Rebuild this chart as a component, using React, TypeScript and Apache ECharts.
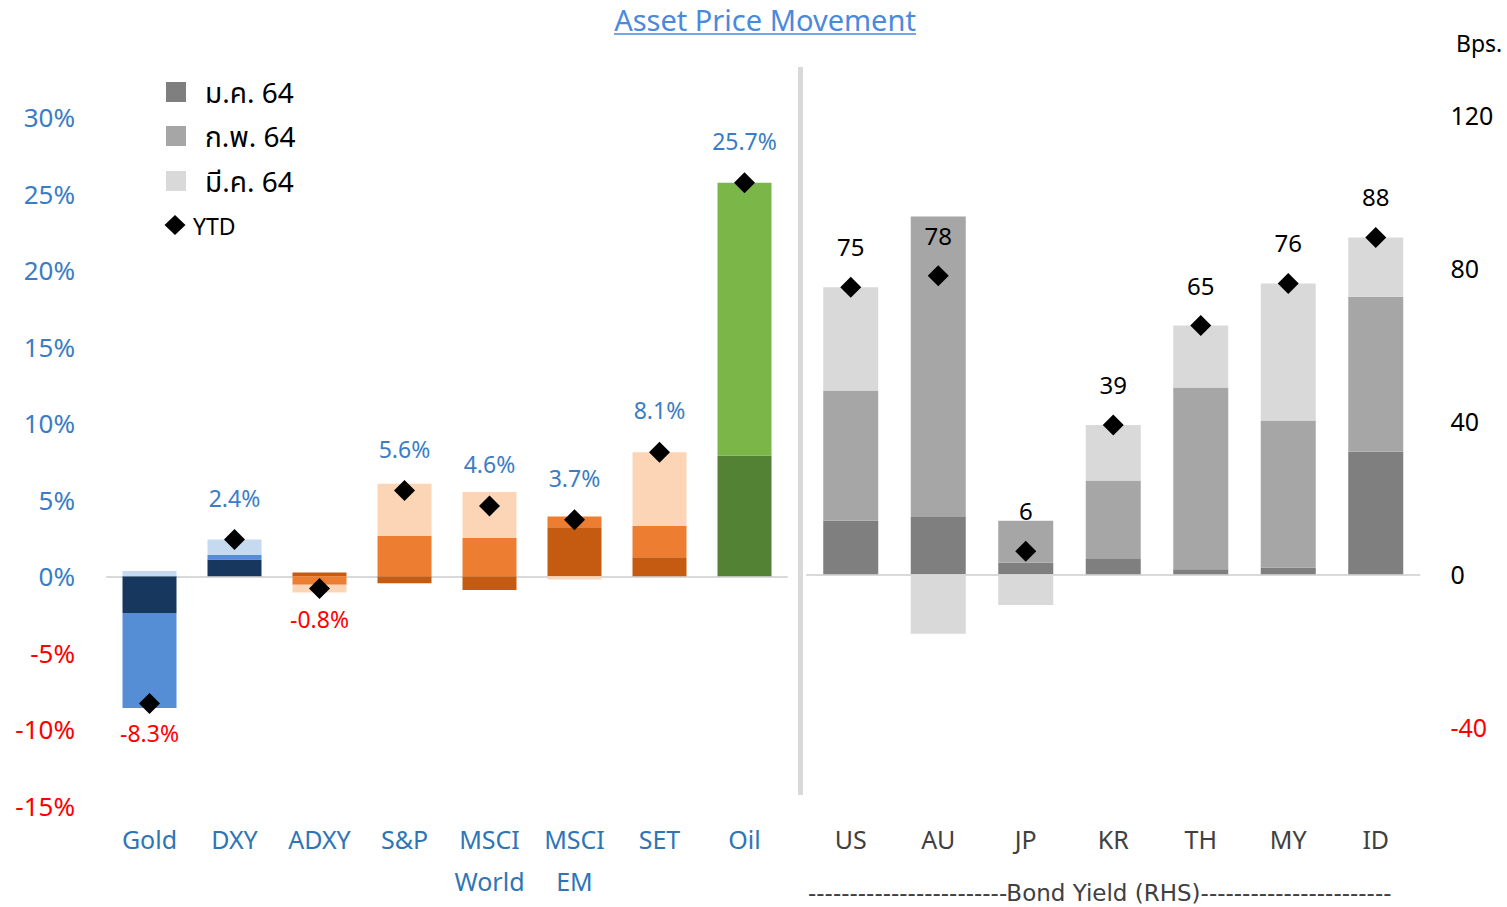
import React, { useEffect, useRef } from "react";
import * as echarts from "echarts";

const leftCats = ["Gold", "DXY", "ADXY", "S&P", "MSCI\nWorld", "MSCI\nEM", "SET", "Oil"];
const leftJan = [-2.4, 1.1, 0.25, -0.45, -0.9, 3.2, 1.25, 7.9];
const leftFeb = [-6.2, 0.3, -0.55, 2.65, 2.5, 0.7, 2.05, 17.8];
const leftMar = [0.35, 1.0, -0.5, 3.4, 3.0, -0.2, 4.8, 0];
const leftYtd = [-8.3, 2.4, -0.8, 5.6, 4.6, 3.7, 8.1, 25.7];

const rightCats = ["US", "AU", "JP", "KR", "TH", "MY", "ID"];
const rightJan = [14, 15, 3, 4, 1.3, 1.7, 32];
const rightFeb = [34, 78.5, 11, 20.5, 47.5, 38.5, 40.5];
const rightMar = [27, -15.5, -8, 14.5, 16.2, 35.8, 15.5];
const rightYtd = [75, 78, 6, 39, 65, 76, 88];

const legendNames = ["ม.ค. 64", "ก.พ. 64", "มี.ค. 64", "YTD"];
const bondTitle = "------------------------Bond Yield (RHS)-----------------------";

// palettes per left category group: [Jan, Feb, Mar]
const bluePal = ["#17375e", "#558ed5", "#c5d9f1"];
const orangePal = ["#c55a11", "#ed7d31", "#fbd5b5"];
const greenPal = ["#548235", "#7ab648", "#a9d18e"];
const leftPal = [bluePal, bluePal, orangePal, orangePal, orangePal, orangePal, orangePal, greenPal];
const greyPal = ["#7f7f7f", "#a6a6a6", "#d9d9d9"];

const FONT = "'Noto Sans', 'Noto Sans Thai', 'DejaVu Sans', sans-serif";
const BLUE = "#3a7dc4";
const RED = "#ff0000";

export default function App() {
  const ref = useRef<HTMLDivElement>(null);
  useEffect(() => {
    document.body.style.margin = "0";
    const chart = echarts.init(ref.current!, null, { renderer: "svg" });
    const months = [leftJan, leftFeb, leftMar];
    const rmonths = [rightJan, rightFeb, rightMar];
    const leftBars = months.map((arr, m) => ({
      type: "bar",
      name: legendNames[m],
      stack: "L",
      xAxisIndex: 0,
      yAxisIndex: 0,
      barWidth: 54,
      data: arr.map((v, i) => ({ value: v, itemStyle: { color: leftPal[i][m] } })),
    }));
    const rightBars = rmonths.map((arr, m) => ({
      type: "bar",
      name: legendNames[m] + " R",
      stack: "R",
      xAxisIndex: 1,
      yAxisIndex: 1,
      barWidth: 55,
      itemStyle: { color: greyPal[m] },
      data: arr,
    }));
    const leftScatter = {
      type: "scatter",
      name: "YTD",
      xAxisIndex: 0,
      yAxisIndex: 0,
      symbol: "diamond",
      symbolSize: 21,
      itemStyle: { color: "#000", opacity: 1 },
      z: 5,
      data: leftYtd.map((v) => ({
        value: v,
        label: {
          show: true,
          position: v >= 0 ? "top" : "bottom",
          distance: v >= 0 ? 20 : 8,
          color: v >= 0 ? BLUE : RED,
          fontSize: 23,
          fontFamily: FONT,
          formatter: v.toFixed(1) + "%",
        },
      })),
    };
    const rightScatter = {
      type: "scatter",
      name: "YTD R",
      xAxisIndex: 1,
      yAxisIndex: 1,
      symbol: "diamond",
      symbolSize: 21,
      itemStyle: { color: "#000", opacity: 1 },
      z: 5,
      data: rightYtd.map((v) => ({
        value: v,
        label: {
          show: true,
          position: "top",
          distance: 18,
          color: "#000",
          fontSize: 24,
          fontFamily: FONT,
          formatter: String(v),
        },
      })),
    };

    const legendY = [92, 136, 181];
    const legendGraphics: any[] = [];
    legendY.forEach((y, i) => {
      legendGraphics.push({
        type: "rect",
        shape: { x: 166, y: y - 10, width: 20, height: 20 },
        style: { fill: greyPal[i] },
      });
      legendGraphics.push({
        type: "text",
        x: 205,
        y: y,
        style: { text: legendNames[i], fontSize: 28, fontFamily: FONT, fill: "#000", align: "left", verticalAlign: "middle" },
      });
    });
    legendGraphics.push({
      type: "polygon",
      shape: { points: [[175, 215], [185.5, 225], [175, 235], [164.5, 225]] },
      style: { fill: "#000" },
    });
    legendGraphics.push({
      type: "text",
      x: 193,
      y: 226,
      style: { text: legendNames[3], fontSize: 23, fontFamily: FONT, fill: "#000", align: "left", verticalAlign: "middle" },
    });

    chart.setOption({
      animation: false,
      backgroundColor: "#fff",
      textStyle: { fontFamily: FONT },
      grid: [
        { left: 107, width: 680, top: 117, bottom: 101 },
        { left: 807, width: 612.5, top: 115, bottom: 103 },
      ],
      xAxis: [
        {
          type: "category",
          gridIndex: 0,
          data: leftCats,
          axisLine: { lineStyle: { color: "#d9d9d9", width: 2 } },
          axisTick: { show: false },
          axisLabel: { color: "#2e75b6", fontSize: 25, fontFamily: FONT, lineHeight: 42, margin: 12, interval: 0 },
        },
        {
          type: "category",
          gridIndex: 1,
          data: rightCats,
          axisLine: { lineStyle: { color: "#d9d9d9", width: 2 } },
          axisTick: { show: false },
          axisLabel: { color: "#404040", fontSize: 25, fontFamily: FONT, lineHeight: 42, margin: 14, interval: 0 },
        },
      ],
      yAxis: [
        {
          type: "value",
          gridIndex: 0,
          min: -15,
          max: 30,
          interval: 5,
          splitLine: { show: false },
          axisLine: { show: false },
          axisTick: { show: false },
          axisLabel: {
            fontSize: 26,
            fontFamily: FONT,
            margin: 32,
            formatter: (v: number) => v + "%",
            color: (v: any) => (Number(v) < 0 ? RED : BLUE),
          },
        },
        {
          type: "value",
          gridIndex: 1,
          position: "right",
          min: -60,
          max: 120,
          interval: 20,
          splitLine: { show: false },
          axisLine: { show: false },
          axisTick: { show: false },
          axisLabel: {
            fontSize: 25,
            fontFamily: FONT,
            margin: 31,
            formatter: (v: number) => (v % 40 === 0 && v >= -40 ? String(v) : ""),
            color: (v: any) => (Number(v) < 0 ? RED : "#000"),
          },
        },
      ],
      series: [...leftBars, ...rightBars, leftScatter, rightScatter],
      graphic: [
        {
          type: "text",
          x: 765,
          y: 19,
          style: { text: "Asset Price Movement", fontSize: 29, fontFamily: FONT, fill: "#4a89dc", align: "center", verticalAlign: "middle" },
        },
        {
          type: "line",
          shape: { x1: 614, y1: 34, x2: 916, y2: 34 },
          style: { stroke: "#4a89dc", lineWidth: 1.5 },
        },
        {
          type: "text",
          x: 1456,
          y: 43,
          style: { text: "Bps.", fontSize: 23, fontFamily: FONT, fill: "#000", align: "left", verticalAlign: "middle" },
        },
        {
          type: "rect",
          shape: { x: 798, y: 67, width: 5, height: 728 },
          style: { fill: "#d9d9d9" },
        },
        {
          type: "text",
          x: 808,
          y: 893,
          style: { text: bondTitle, fontSize: 23, fontFamily: "'DejaVu Sans', sans-serif", fill: "#404040", align: "left", verticalAlign: "middle" },
        },
        ...legendGraphics,
      ],
    });
    return () => chart.dispose();
  }, []);
  return <div ref={ref} style={{ width: 1507, height: 907 }} />;
}
